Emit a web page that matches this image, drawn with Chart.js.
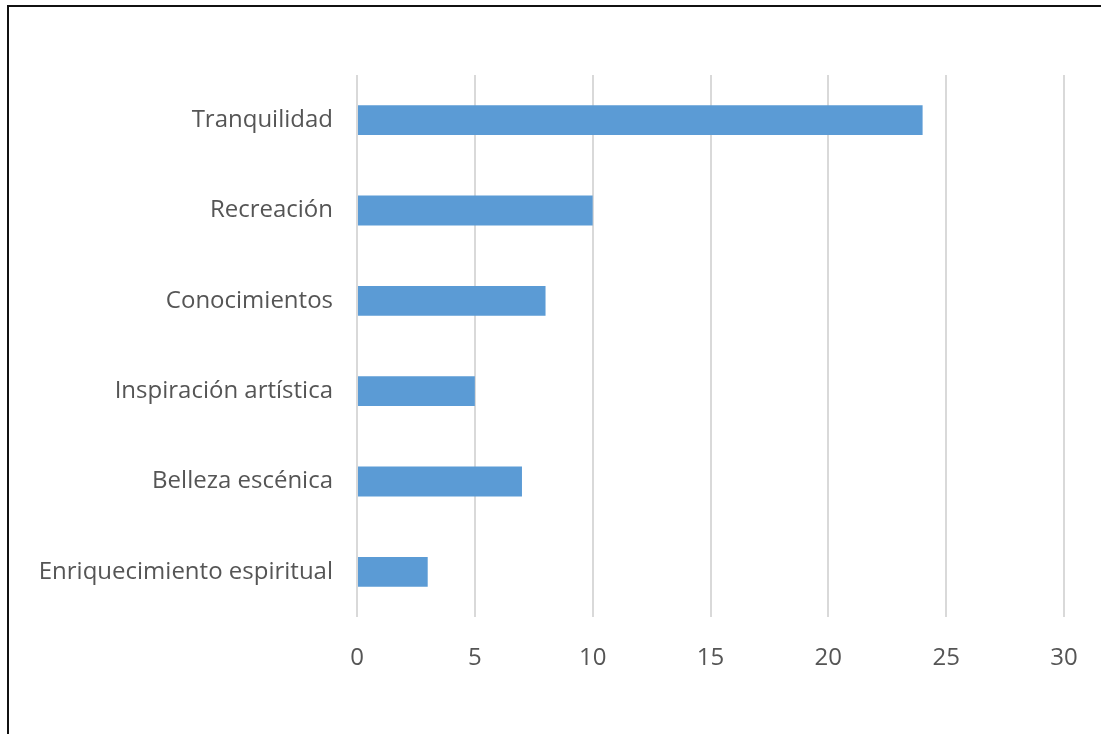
<!DOCTYPE html>
<html>
<head>
<meta charset="utf-8">
<script src="https://cdn.jsdelivr.net/npm/chart.js@4"></script>
<style>
  body { margin: 0; background: #fff; }
  #wrap { position: relative; width: 1101px; height: 734px; }
  #frame { position: absolute; left: 7px; top: 5px; right: 0; bottom: 0;
           border-left: 2px solid #111; border-top: 2px solid #111; }
  canvas { position: absolute; left: 0; top: 0; }
</style>
</head>
<body>
<div id="wrap">
  <div id="frame"></div>
  <canvas id="chart" width="1101" height="734"></canvas>
</div>
<script>
// categorías y valores
const categories = ['Tranquilidad', 'Recreación', 'Conocimientos', 'Inspiración artística', 'Belleza escénica', 'Enriquecimiento espiritual'];
const values = [24, 10, 8, 5, 7, 3];
const xMin = 0;
const xMax = 30;
const xStep = 5;

Chart.defaults.font.family = '"Open Sans", sans-serif';
Chart.defaults.color = '#555555';

const ctx = document.getElementById('chart').getContext('2d');
new Chart(ctx, {
    type: 'bar',
    data: {
        labels: categories,
        datasets: [{
            data: values,
            backgroundColor: '#5b9bd5',
            borderWidth: 0,
            barPercentage: 0.66,
            categoryPercentage: 0.5
        }]
    },
    options: {
        indexAxis: 'y',
        responsive: false,
        animation: false,
        layout: { padding: { top: 75, right: 37, bottom: 57, left: 0 } },
        plugins: { legend: { display: false }, tooltip: { enabled: false } },
        scales: {
            x: {
                min: xMin,
                max: xMax,
                ticks: { stepSize: xStep, padding: 27, font: { size: 24 } },
                grid: { color: '#d9d9d9', lineWidth: 2, drawTicks: false },
                border: { display: false },
                afterFit: (axis) => {
                    axis.height = 60;
                    axis.paddingLeft = 0;
                    axis.paddingRight = 0;
                }
            },
            y: {
                ticks: { padding: 24, font: { size: 24 } },
                grid: { display: false, drawTicks: false },
                border: { display: false },
                afterFit: (axis) => { axis.width = 357; }
            }
        }
    }
});
</script>
</body>
</html>
